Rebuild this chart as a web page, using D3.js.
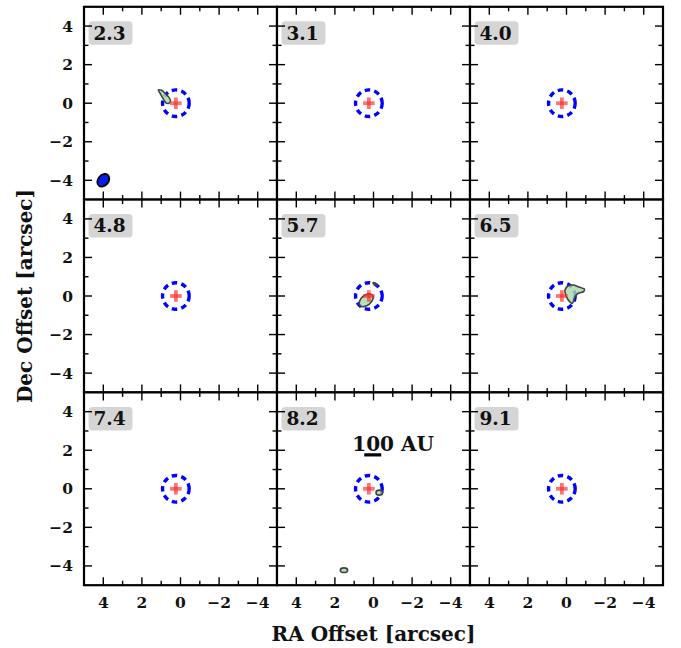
<!DOCTYPE html>
<html>
<head>
<meta charset="utf-8">
<script src="https://cdn.jsdelivr.net/npm/d3@7/dist/d3.min.js"></script>
<style>
  html, body { margin: 0; padding: 0; background: #fff; }
  svg { display: block; }
  text { font-family: "DejaVu Serif", serif; font-weight: bold; fill: #111; }
</style>
</head>
<body>
<svg id="chart" width="681" height="648"></svg>
<script>
// Velocity channels (km/s), one panel each, read row by row
const channels = ["2.3", "3.1", "4.0", "4.8", "5.7", "6.5", "7.4", "8.2", "9.1"];

// Axis ticks (arcsec)
const majorTicks = [4, 2, 0, -2, -4];
const majorLabels = ["4", "2", "0", "\u22122", "\u22124"];
const minorTicks = [3, 1, -1, -3];
const axisExtent = [5, -5];

// Source position and aperture (arcsec)
const sourcePos = [0.24, 0.0];
const apertureRadius = 0.69;
const crossArm = 0.3;

// Synthesized beam: centre x, centre y, semi-major, semi-minor (arcsec), angle (deg)
const beam = [4.0, -4.0, 0.36, 0.27, 40];

// Emission contours per channel: polygons as [RA, Dec] points in arcsec
const contourPolys = {
  "2.3": [[[1.15, 0.68], [1.0, 0.68], [0.78, 0.5], [0.6, 0.3], [0.52, 0.12], [0.6, 0.0],
           [0.76, 0.02], [0.88, 0.2], [1.02, 0.45]]],
  "6.5": [[[0.08, 0.31], [-0.09, 0.53], [-0.35, 0.57], [-0.61, 0.48], [-0.92, 0.36], [-0.87, 0.22],
           [-0.61, 0.14], [-0.44, -0.04], [-0.35, -0.30], [-0.27, -0.38], [-0.09, -0.21], [0.04, 0.05]]]
};
// Emission contours given as ellipses: [RA, Dec, rx, ry, angle deg]
const contourEllipses = {
  "5.7": [[0.38, -0.22, 0.42, 0.26, -40], [-0.08, 0.62, 0.12, 0.04, 30]],
  "8.2": [[-0.3, -0.2, 0.17, 0.13, 0], [1.53, -4.22, 0.19, 0.12, 0]]
};

// Scale bar: 100 AU length in arcsec, drawn in one panel
const scaleBarChannel = "8.2";
const scaleBarLabel = "100 AU";
const scaleBarRange = [0.48, -0.40];
const scaleBarDec = 1.76;
const scaleBarTextPos = [1.1, 1.94];

const svg = d3.select("#chart");
const gridLeft = 84, gridTop = 6.8, pw = 193, ph = 192.8;

const x = d3.scaleLinear().domain(axisExtent).range([0, pw]);
const y = d3.scaleLinear().domain(axisExtent).range([0, ph]);

const line = d3.line().x(d => x(d[0])).y(d => y(d[1])).curve(d3.curveCardinalClosed.tension(0.2));

channels.forEach((ch, i) => {
  const col = i % 3, row = Math.floor(i / 3);
  const g = svg.append("g").attr("transform", `translate(${gridLeft + col * pw},${gridTop + row * ph})`);

  g.append("rect").attr("width", pw).attr("height", ph).attr("fill", "#fff");

  // beam in the first panel
  if (i === 0) {
    g.append("ellipse")
      .attr("transform", `translate(${x(beam[0])},${y(beam[1])}) rotate(${beam[4]})`)
      .attr("rx", x(0) - x(beam[3])).attr("ry", y(0) - y(beam[2]))
      .attr("fill", "#0a1cf0").attr("stroke", "#000").attr("stroke-width", 1.8);
  }

  // aperture circle
  g.append("circle")
    .attr("cx", x(sourcePos[0])).attr("cy", y(sourcePos[1]))
    .attr("r", x(0) - x(apertureRadius))
    .attr("fill", "none").attr("stroke", "#0000ff").attr("stroke-width", 3.4)
    .attr("stroke-dasharray", "5.5,4.2");

  // contour regions
  (contourPolys[ch] || []).forEach(p => {
    g.append("path").attr("d", line(p))
      .attr("fill", "#a9d9a9").attr("fill-opacity", 0.82)
      .attr("stroke", "#3f463f").attr("stroke-width", 1.6);
  });
  (contourEllipses[ch] || []).forEach(e => {
    g.append("ellipse")
      .attr("transform", `translate(${x(e[0])},${y(e[1])}) rotate(${e[4]})`)
      .attr("rx", x(0) - x(e[2])).attr("ry", y(0) - y(e[3]))
      .attr("fill", "#a9d9a9").attr("fill-opacity", 0.82)
      .attr("stroke", "#3f463f").attr("stroke-width", 1.6);
  });

  // source cross
  const cross = g.append("g").attr("stroke", "#ff2a2a").attr("stroke-opacity", 0.65).attr("stroke-width", 3.8);
  cross.append("line")
    .attr("x1", x(sourcePos[0] + crossArm)).attr("x2", x(sourcePos[0] - crossArm))
    .attr("y1", y(sourcePos[1])).attr("y2", y(sourcePos[1]));
  cross.append("line")
    .attr("x1", x(sourcePos[0])).attr("x2", x(sourcePos[0]))
    .attr("y1", y(sourcePos[1] + crossArm)).attr("y2", y(sourcePos[1] - crossArm));

  // channel label
  g.append("rect").attr("x", 4.5).attr("y", 14.5).attr("width", 44).attr("height", 23.5)
    .attr("rx", 4).attr("fill", "#d5d5d5");
  g.append("text").attr("x", 9.5).attr("y", 32.8).attr("font-size", 18.5).text(ch);

  // scale bar
  if (ch === scaleBarChannel) {
    g.append("line")
      .attr("x1", x(scaleBarRange[0])).attr("x2", x(scaleBarRange[1]))
      .attr("y1", y(scaleBarDec)).attr("y2", y(scaleBarDec))
      .attr("stroke", "#000").attr("stroke-width", 3.2);
    g.append("text").attr("x", x(scaleBarTextPos[0])).attr("y", y(scaleBarTextPos[1]))
      .attr("font-size", 20).text(scaleBarLabel);
  }

  // inward ticks on all four sides
  const ticks = g.append("g").attr("stroke", "#000").attr("stroke-width", 1.4);
  const addTicks = (vals, len) => {
    vals.forEach(v => {
      ticks.append("line").attr("x1", x(v)).attr("x2", x(v)).attr("y1", 0).attr("y2", len);
      ticks.append("line").attr("x1", x(v)).attr("x2", x(v)).attr("y1", ph).attr("y2", ph - len);
      ticks.append("line").attr("y1", y(v)).attr("y2", y(v)).attr("x1", 0).attr("x2", len);
      ticks.append("line").attr("y1", y(v)).attr("y2", y(v)).attr("x1", pw).attr("x2", pw - len);
    });
  };
  addTicks(majorTicks, 8);
  addTicks(minorTicks, 4.5);

  g.append("rect").attr("width", pw).attr("height", ph)
    .attr("fill", "none").attr("stroke", "#000").attr("stroke-width", 2.2);

  // tick labels on the outer axes
  if (col === 0) {
    majorTicks.forEach((v, k) => {
      g.append("text").attr("x", -11).attr("y", y(v)).attr("dy", "0.36em")
        .attr("text-anchor", "end").attr("font-size", 15.5).text(majorLabels[k]);
    });
  }
  if (row === 2) {
    majorTicks.forEach((v, k) => {
      g.append("text").attr("x", x(v)).attr("y", ph + 23)
        .attr("text-anchor", "middle").attr("font-size", 15.5).text(majorLabels[k]);
    });
  }
});

// axis titles
svg.append("text").attr("x", gridLeft + 1.5 * pw).attr("y", 641)
  .attr("text-anchor", "middle").attr("font-size", 20).text("RA Offset [arcsec]");
svg.append("text").attr("transform", `translate(32,${gridTop + 1.5 * ph}) rotate(-90)`)
  .attr("text-anchor", "middle").attr("font-size", 20).text("Dec Offset [arcsec]");
</script>
</body>
</html>
